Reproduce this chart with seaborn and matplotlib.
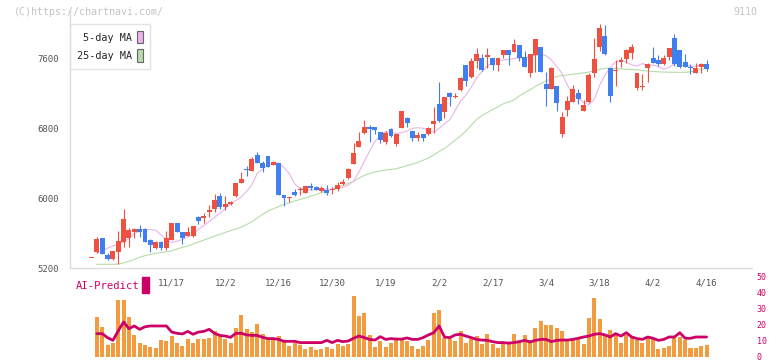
import matplotlib
matplotlib.use("Agg")
import matplotlib.pyplot as plt
import numpy as np
import pandas as pd
import seaborn as sns
from matplotlib.patches import Patch, Rectangle

# ---- data (index = trading day) ----
date_labels = ["11/17", "12/2", "12/16", "12/30", "1/19", "2/2",
               "2/17", "3/4", "3/18", "4/2", "4/16"]
date_pos = [15, 25, 35, 45, 55, 65, 75, 85, 95, 105, 115]

opens = [5318, 5386, 5546, 5352, 5306, 5386, 5504, 5550, 5618, 5649,
         5649, 5523, 5435, 5500, 5435, 5527, 5718, 5618, 5569, 5569,
         5790, 5780, 5847, 5878, 6026, 5901, 5935, 6026, 6172, 6335,
         6312, 6498, 6407, 6484, 6384, 6404, 6034, 6000, 6072, 6090,
         6064, 6141, 6126, 6083, 6100, 6090, 6103, 6160, 6232, 6396,
         6587, 6750, 6819, 6819, 6761, 6647, 6792, 6624, 6807, 6914,
         6769, 6685, 6730, 6732, 6849, 7078, 6983, 7207, 7155, 7238,
         7524, 7383, 7569, 7604, 7620, 7604, 7524, 7638, 7699, 7669,
         7752, 7619, 7436, 7638, 7730, 7307, 7253, 7287, 6739, 7009,
         7104, 7204, 7001, 7104, 7436, 7733, 7855, 7486, 7450, 7561,
         7592, 7664, 7264, 7270, 7486, 7607, 7584, 7535, 7619, 7832,
         7695, 7561, 7500, 7436, 7497, 7535]
highs = [5318, 5560, 5550, 5380, 5400, 5626, 5878, 5664, 5664, 5690,
         5655, 5530, 5510, 5515, 5626, 5718, 5718, 5618, 5675, 5683,
         5800, 5830, 5924, 6049, 6055, 6032, 5970, 6180, 6304, 6369,
         6476, 6529, 6430, 6484, 6430, 6404, 6034, 6010, 6110, 6130,
         6141, 6170, 6135, 6140, 6150, 6130, 6190, 6220, 6350, 6636,
         6761, 6895, 6842, 6819, 6761, 6770, 6800, 6738, 7000, 6930,
         6769, 6760, 6740, 6810, 7044, 7329, 7158, 7215, 7207, 7385,
         7524, 7600, 7718, 7650, 7718, 7604, 7604, 7695, 7699, 7821,
         7752, 7684, 7649, 7821, 7730, 7444, 7500, 7287, 6987, 7173,
         7300, 7250, 7125, 7428, 7836, 7992, 7980, 7490, 7581, 7620,
         7710, 7760, 7436, 7420, 7545, 7733, 7640, 7640, 7718, 7878,
         7695, 7650, 7530, 7550, 7550, 7581]
lows = [5318, 5380, 5360, 5295, 5300, 5249, 5447, 5447, 5550, 5560,
        5504, 5390, 5420, 5410, 5410, 5527, 5611, 5474, 5569, 5560,
        5710, 5720, 5783, 5847, 5878, 5870, 5925, 6020, 6172, 6255,
        6312, 6400, 6297, 6361, 6375, 6041, 5916, 5960, 6030, 6040,
        6060, 6090, 6090, 6075, 6038, 6050, 6080, 6150, 6220, 6396,
        6587, 6738, 6647, 6738, 6629, 6620, 6700, 6600, 6800, 6819,
        6655, 6650, 6660, 6720, 6745, 6870, 6914, 7055, 7150, 7230,
        7284, 7370, 7486, 7460, 7486, 7467, 7460, 7600, 7524, 7669,
        7573, 7504, 7390, 7440, 7447, 7059, 7250, 7000, 6704, 6941,
        7104, 7080, 7001, 7090, 7390, 7684, 7640, 7104, 7287, 7500,
        7550, 7590, 7240, 7236, 7333, 7550, 7515, 7520, 7580, 7510,
        7487, 7504, 7420, 7430, 7430, 7460]
closes = [5318, 5535, 5367, 5303, 5398, 5512, 5763, 5638, 5649, 5618,
          5504, 5466, 5500, 5435, 5546, 5718, 5611, 5550, 5618, 5683,
          5741, 5790, 5870, 5977, 5901, 5935, 5961, 6172, 6224, 6320,
          6453, 6400, 6350, 6361, 6415, 6041, 6007, 6010, 6041, 6100,
          6141, 6121, 6095, 6121, 6064, 6100, 6152, 6183, 6335, 6521,
          6655, 6819, 6796, 6781, 6666, 6750, 6716, 6738, 7000, 6861,
          6693, 6724, 6690, 6800, 6884, 6880, 7158, 7161, 7165, 7379,
          7344, 7569, 7649, 7467, 7630, 7524, 7604, 7695, 7638, 7764,
          7607, 7504, 7649, 7821, 7447, 7253, 7489, 7089, 6929, 7112,
          7249, 7132, 7067, 7409, 7596, 7950, 7649, 7173, 7460, 7584,
          7695, 7733, 7436, 7285, 7532, 7550, 7535, 7604, 7718, 7535,
          7504, 7504, 7490, 7490, 7535, 7478]

ma5 = [np.nan, 5371, 5400, 5430, 5455, 5475, 5500, 5540, 5595, 5625,
       5646, 5642, 5635, 5580, 5530, 5495, 5510, 5530, 5560, 5590,
       5645, 5690, 5735, 5780, 5830, 5880, 5935, 5975, 6015, 6080,
       6155, 6285, 6335, 6380, 6410, 6400, 6350, 6280, 6165, 6110,
       6100, 6095, 6098, 6103, 6103, 6103, 6112, 6125, 6150, 6200,
       6300, 6420, 6540, 6650, 6720, 6762, 6750, 6742, 6750, 6770,
       6800, 6807, 6800, 6780, 6756, 6800, 6850, 6900, 7005, 7110,
       7180, 7270, 7375, 7450, 7510, 7555, 7575, 7580, 7588, 7598,
       7604, 7607, 7620, 7638, 7645, 7630, 7581, 7505, 7425, 7290,
       7185, 7143, 7095, 7070, 7130, 7290, 7410, 7495, 7560, 7580,
       7555, 7525, 7512, 7540, 7520, 7522, 7505, 7475, 7495, 7540,
       7524, 7516, 7508, 7510, 7522, 7524]
ma25 = [np.nan, 5246, 5246, 5246, 5246, 5248, 5262, 5280, 5300, 5325,
        5345, 5358, 5372, 5380, 5388, 5400, 5420, 5440, 5455, 5478,
        5500, 5522, 5545, 5568, 5588, 5610, 5630, 5650, 5670, 5700,
        5733, 5775, 5815, 5855, 5880, 5905, 5932, 5950, 5970, 5986,
        6005, 6025, 6042, 6065, 6085, 6105, 6125, 6148, 6170, 6195,
        6230, 6262, 6283, 6300, 6313, 6322, 6330, 6338, 6355, 6374,
        6390, 6410, 6435, 6460, 6495, 6535, 6570, 6615, 6665, 6712,
        6770, 6835, 6900, 6945, 6980, 7015, 7045, 7080, 7100, 7125,
        7170, 7205, 7240, 7280, 7310, 7340, 7370, 7392, 7402, 7410,
        7418, 7425, 7433, 7442, 7458, 7472, 7486, 7485, 7482, 7479,
        7476, 7472, 7468, 7460, 7454, 7449, 7445, 7443, 7441, 7440,
        7440, 7440, 7445, 7460, 7475, 7486]

volume = [np.nan, 25.0, 18.8, 7.3, 8.8, 35.4, 35.4, 25.2, 13.5, 8.8,
          7.3, 6.3, 5.8, 10.4, 10.0, 12.9, 8.8, 6.7, 11.0, 8.8,
          11.0, 11.0, 11.7, 16.5, 13.1, 11.5, 8.8, 17.9, 26.1, 17.3,
          15.8, 20.6, 14.2, 11.0, 11.0, 13.1, 9.6, 6.7, 8.5, 7.6,
          4.8, 6.3, 4.4, 4.8, 6.3, 4.8, 7.9, 6.9, 8.3, 37.9,
          25.4, 27.5, 13.5, 6.3, 10.0, 6.3, 8.9, 11.5, 10.9, 10.0,
          6.7, 4.8, 6.7, 10.5, 27.5, 29.2, 12.1, 11.5, 10.0, 16.3,
          8.9, 11.5, 12.9, 7.9, 14.2, 7.9, 5.6, 9.5, 9.0, 14.2,
          9.5, 13.5, 10.4, 17.9, 22.3, 19.8, 19.8, 18.4, 16.1, 10.4,
          10.4, 11.3, 7.9, 24.2, 36.7, 23.5, 14.6, 16.7, 13.5, 9.0,
          13.5, 12.5, 10.4, 9.0, 12.1, 11.0, 4.8, 5.6, 6.7, 12.1,
          12.5, 10.6, 5.6, 5.6, 6.7, 7.5]
ai_predict = [np.nan, 14.6, 14.6, 12.1, 10.4, 16.3, 21.9, 17.7, 19.4, 17.3,
              18.9, 19.4, 19.4, 19.4, 19.4, 15.6, 14.8, 14.4, 16.0, 14.2,
              15.6, 16.0, 17.3, 14.8, 13.5, 13.1, 12.3, 14.8, 14.8, 13.8,
              13.5, 13.5, 12.3, 11.5, 11.5, 11.0, 9.8, 9.8, 9.8, 9.0,
              9.0, 9.0, 9.0, 9.0, 10.4, 9.0, 10.4, 9.6, 10.0, 11.7,
              13.1, 12.1, 11.0, 10.6, 12.7, 11.0, 11.5, 11.2, 11.2, 11.9,
              11.0, 11.0, 12.1, 13.8, 15.2, 19.4, 12.5, 12.1, 13.8, 14.2,
              13.1, 12.1, 11.0, 10.6, 10.4, 9.6, 9.0, 9.0, 8.7, 9.0,
              9.6, 10.4, 9.4, 10.4, 11.0, 11.0, 9.6, 10.4, 10.6, 10.6,
              11.0, 11.7, 12.5, 13.1, 14.2, 14.6, 13.8, 12.5, 14.6, 13.1,
              15.2, 12.5, 11.5, 11.0, 12.5, 11.7, 10.4, 11.0, 12.5, 12.5,
              15.2, 11.7, 11.7, 12.5, 12.5, 12.5]

RED = "#ef5140"
BLUE = "#3f7ff0"
PINK = "#e9b4ea"
GREEN = "#b6dcaa"
CRIMSON = "#cc0066"
ORANGE = "#f29b3f"
AXIS = "#dcdcdc"

df = pd.DataFrame({"open": opens, "high": highs, "low": lows, "close": closes,
                   "ma5": ma5, "ma25": ma25, "volume": volume, "ai": ai_predict})
df["idx"] = np.arange(len(df))

sns.set_style("white")
plt.rcParams["font.family"] = ["DejaVu Sans Mono"]

W, H = 772, 361
fig = plt.figure(figsize=(W / 100, H / 100), dpi=100)
ax = fig.add_axes([70 / W, 1 - 268.3 / H, 682 / W, 258.3 / H])
axv = fig.add_axes([70 / W, 1 - 357 / H, 682 / W, 80 / H])
xlim = (-4.02, 123.5)

# moving averages (behind candles)
sns.lineplot(data=df, x="idx", y="ma25", color=GREEN, lw=0.8, ax=ax, zorder=1)
sns.lineplot(data=df, x="idx", y="ma5", color=PINK, lw=0.8, ax=ax, zorder=1)

# candles
up = df["close"] >= df["open"]
colors = np.where(up, RED, BLUE)
ax.vlines(df["idx"], df["low"], df["high"], colors=colors, lw=0.8, zorder=2)
body_lo = np.minimum(df["open"], df["close"])
body_h = np.maximum((df["close"] - df["open"]).abs(), 14)
ax.bar(df["idx"], body_h, bottom=body_lo, width=0.92, color=colors,
       linewidth=0, zorder=3)

ax.set_xlim(*xlim)
ax.set_ylim(5200, 8152)
ax.set_xlabel("")
ax.set_ylabel("")
for s in ("top", "right"):
    ax.spines[s].set_visible(False)
for s in ("left", "bottom"):
    ax.spines[s].set_color(AXIS)
    ax.spines[s].set_linewidth(1)

ax.set_xticks(np.linspace(xlim[0], xlim[1], 12))
ax.set_xticklabels([])
ax.tick_params(axis="x", which="major", direction="inout", length=6,
               color=AXIS, width=1)
ax.set_xticks(date_pos, minor=True)
ax.set_xticklabels(date_labels, minor=True)
ax.tick_params(axis="x", which="minor", length=0, pad=7.5, labelsize=6.5,
               labelcolor="#555555")
ax.set_yticks([5200, 6000, 6800, 7600])
ax.tick_params(axis="y", length=3.6, color="#cccccc", width=1, pad=4.3,
               labelsize=6.5, labelcolor="#555555")

handles = [Patch(facecolor=PINK, edgecolor="#666666", lw=0.8),
           Patch(facecolor=GREEN, edgecolor="#666666", lw=0.8)]
leg = ax.legend(handles, ["5-day MA", "25-day MA"], loc="upper left",
                bbox_to_anchor=(0, 0.946), markerfirst=False, frameon=True,
                fancybox=False, edgecolor=AXIS, fontsize=7.3,
                handlelength=0.6, handleheight=1.5, borderaxespad=0,
                borderpad=0.7, labelspacing=0.6, handletextpad=0.5)
leg.get_frame().set_linewidth(1)

# volume + AI-Predict panel
axv.bar(df["idx"], df["volume"], width=0.75, color=ORANGE, linewidth=0)
sns.lineplot(data=df, x="idx", y="ai", color=CRIMSON, lw=2.0, ax=axv)
axv.set_xlim(*xlim)
axv.set_ylim(0, 50)
axv.set_xlabel("")
axv.set_ylabel("")
for s in axv.spines.values():
    s.set_visible(False)
axv.patch.set_alpha(0)
axv.set_xticks([])
axv.yaxis.tick_right()
axv.set_yticks(range(0, 51, 10))
axv.tick_params(axis="y", length=0, pad=3.5, labelsize=6.0,
                labelcolor=CRIMSON)

fig.text(76 / W, 1 - 286 / H, "AI-Predict", color=CRIMSON, fontsize=7.6,
         va="center")
fig.add_artist(Rectangle((142 / W, 1 - 293 / H), 7 / W, 16 / H,
                         transform=fig.transFigure, color=CRIMSON))
fig.text(14 / W, 1 - 12 / H, "(C)https://chartnavi.com/", color="#c4c4c4",
         fontsize=7.2, va="center")
fig.text(757 / W, 1 - 12 / H, "9110", color="#c4c4c4", fontsize=7.2,
         va="center", ha="right")

fig.savefig("out.png", dpi=100)
plt.close(fig)
